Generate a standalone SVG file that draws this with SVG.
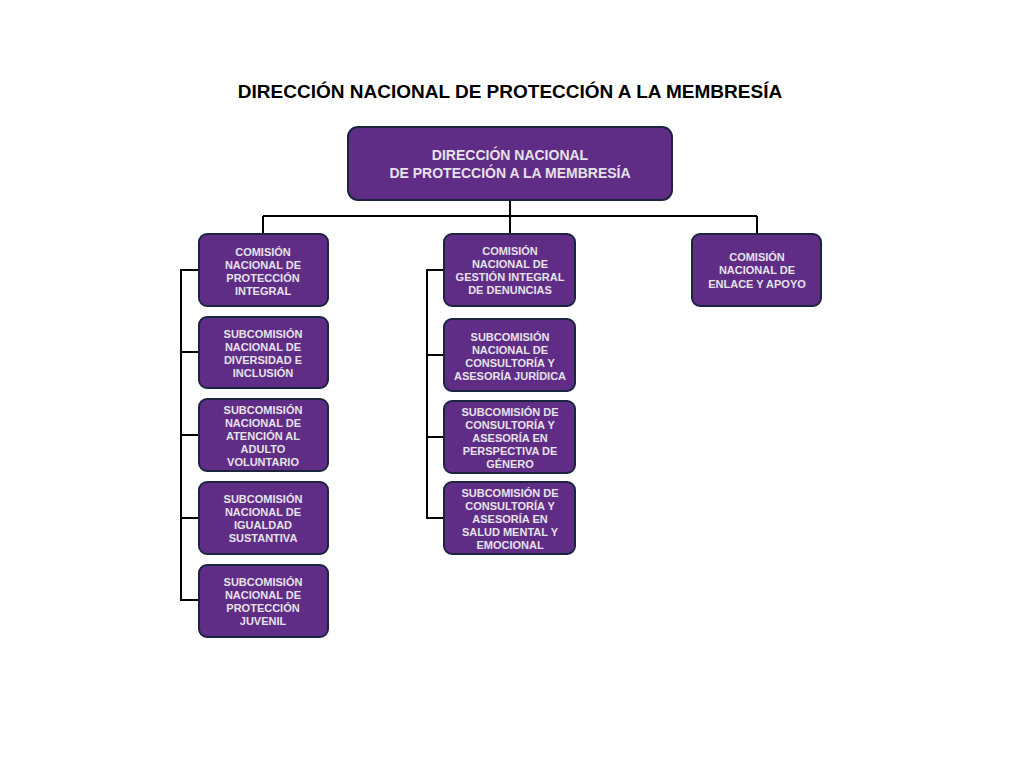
<svg xmlns="http://www.w3.org/2000/svg" width="1020" height="765" viewBox="0 0 1020 765">
<style>
.b{fill:#5f2d86;stroke:#1d2440;stroke-width:2}
.t{font-family:"Liberation Sans",Arial,sans-serif;font-weight:bold;font-size:11px;fill:#e6e2ea;text-anchor:middle}
.h{font-size:14px}
.c{stroke:#000;stroke-width:2;fill:none}
</style>
<rect width="1020" height="765" fill="#fff"/>
<text x="510" y="98" font-family="Liberation Sans,Arial,sans-serif" font-weight="bold" font-size="19" text-anchor="middle">DIRECCIÓN NACIONAL DE PROTECCIÓN A LA MEMBRESÍA</text>
<g id="connectors" class="c">
<path d="M510 200V234M263 216H757M263 216V234M757 216V234"/>
<path d="M199 270H181V600H199M181 352H199M181 435H199M181 518H199"/>
<path d="M444 270H427V518H444M427 355H444M427 437H444"/>
</g>
<g id="root"><rect class="b" x="348" y="127" width="324" height="73" rx="10"/><text class="t h" x="510" y="160">DIRECCIÓN NACIONAL</text><text class="t h" x="510" y="178">DE PROTECCIÓN A LA MEMBRESÍA</text></g>
<g id="c1"><rect class="b" x="199" y="234" width="129" height="72" rx="8"/><text class="t" x="263" y="256">COMISIÓN</text><text class="t" x="263" y="269">NACIONAL DE</text><text class="t" x="263" y="282">PROTECCIÓN</text><text class="t" x="263" y="295">INTEGRAL</text></g>
<g id="s1"><rect class="b" x="199" y="317" width="129" height="71" rx="8"/><text class="t" x="263" y="338">SUBCOMISIÓN</text><text class="t" x="263" y="351">NACIONAL DE</text><text class="t" x="263" y="364">DIVERSIDAD E</text><text class="t" x="263" y="377">INCLUSIÓN</text></g>
<g id="s2"><rect class="b" x="199" y="399" width="129" height="72" rx="8"/><text class="t" x="263" y="414">SUBCOMISIÓN</text><text class="t" x="263" y="427">NACIONAL DE</text><text class="t" x="263" y="440">ATENCIÓN AL</text><text class="t" x="263" y="453">ADULTO</text><text class="t" x="263" y="466">VOLUNTARIO</text></g>
<g id="s3"><rect class="b" x="199" y="482" width="129" height="72" rx="8"/><text class="t" x="263" y="503">SUBCOMISIÓN</text><text class="t" x="263" y="516">NACIONAL DE</text><text class="t" x="263" y="529">IGUALDAD</text><text class="t" x="263" y="542">SUSTANTIVA</text></g>
<g id="s4"><rect class="b" x="199" y="565" width="129" height="72" rx="8"/><text class="t" x="263" y="586">SUBCOMISIÓN</text><text class="t" x="263" y="599">NACIONAL DE</text><text class="t" x="263" y="612">PROTECCIÓN</text><text class="t" x="263" y="625">JUVENIL</text></g>
<g id="c2"><rect class="b" x="444" y="234" width="131" height="72" rx="8"/><text class="t" x="510" y="255">COMISIÓN</text><text class="t" x="510" y="268">NACIONAL DE</text><text class="t" x="510" y="281">GESTIÓN INTEGRAL</text><text class="t" x="510" y="294">DE DENUNCIAS</text></g>
<g id="s5"><rect class="b" x="444" y="319" width="131" height="72" rx="8"/><text class="t" x="510" y="341">SUBCOMISIÓN</text><text class="t" x="510" y="354">NACIONAL DE</text><text class="t" x="510" y="367">CONSULTORÍA Y</text><text class="t" x="510" y="380">ASESORÍA JURÍDICA</text></g>
<g id="s6"><rect class="b" x="444" y="401" width="131" height="72" rx="8"/><text class="t" x="510" y="416">SUBCOMISIÓN DE</text><text class="t" x="510" y="429">CONSULTORÍA Y</text><text class="t" x="510" y="442">ASESORÍA EN</text><text class="t" x="510" y="455">PERSPECTIVA DE</text><text class="t" x="510" y="468">GÉNERO</text></g>
<g id="s7"><rect class="b" x="444" y="482" width="131" height="72" rx="8"/><text class="t" x="510" y="497">SUBCOMISIÓN DE</text><text class="t" x="510" y="510">CONSULTORÍA Y</text><text class="t" x="510" y="523">ASESORÍA EN</text><text class="t" x="510" y="536">SALUD MENTAL Y</text><text class="t" x="510" y="549">EMOCIONAL</text></g>
<g id="c3"><rect class="b" x="692" y="234" width="129" height="72" rx="8"/><text class="t" x="757" y="261">COMISIÓN</text><text class="t" x="757" y="274">NACIONAL DE</text><text class="t" x="757" y="288">ENLACE Y APOYO</text></g>
</svg>
